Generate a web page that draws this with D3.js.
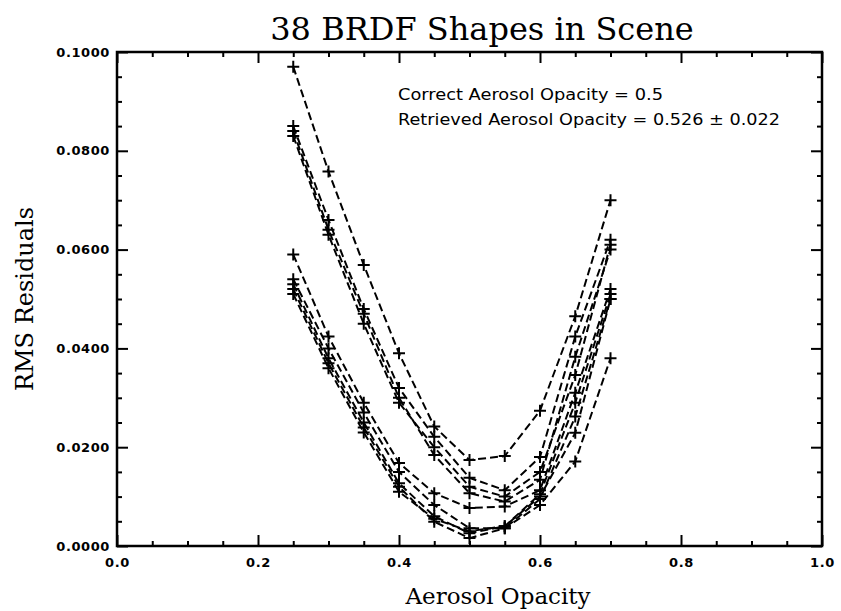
<!DOCTYPE html>
<html>
<head>
<meta charset="utf-8">
<script src="https://cdn.jsdelivr.net/npm/d3@7"></script>
<style>
  html, body { margin: 0; padding: 0; background: #fff; }
  svg { display: block; }
</style>
</head>
<body>
<svg id="chart" width="841" height="611"></svg>
<script>
// Aerosol opacities at which each BRDF fit was evaluated
const opacities = [0.25, 0.30, 0.35, 0.40, 0.45, 0.50, 0.55, 0.60, 0.65, 0.70];

// RMS residuals of the fit, one array per BRDF shape
const shapeA  = [0.0970, 0.0758, 0.0569, 0.0390, 0.0242, 0.0174, 0.0182, 0.0274, 0.0465, 0.0700];
const shapeB1 = [0.0850, 0.0660, 0.0480, 0.0320, 0.0221, 0.0138, 0.0113, 0.0180, 0.0424, 0.0620];
const shapeB2 = [0.0840, 0.0640, 0.0470, 0.0300, 0.0184, 0.0107, 0.0090, 0.0134, 0.0383, 0.0600];
const shapeB3 = [0.0830, 0.0630, 0.0450, 0.0290, 0.0200, 0.0120, 0.0100, 0.0150, 0.0346, 0.0610];
const shapeD1 = [0.0590, 0.0424, 0.0290, 0.0168, 0.0107, 0.0077, 0.0080, 0.0113, 0.0310, 0.0520];
const shapeD2 = [0.0540, 0.0400, 0.0270, 0.0150, 0.0083, 0.0036, 0.0036, 0.0095, 0.0262, 0.0500];
const shapeD3 = [0.0530, 0.0380, 0.0250, 0.0127, 0.0060, 0.0026, 0.0040, 0.0105, 0.0290, 0.0510];
const shapeD4 = [0.0520, 0.0370, 0.0240, 0.0120, 0.0049, 0.0016, 0.0036, 0.0083, 0.0171, 0.0380];
const shapeD5 = [0.0510, 0.0360, 0.0230, 0.0110, 0.0055, 0.0030, 0.0040, 0.0100, 0.0229, 0.0500];
const shapes = [shapeA, shapeB1, shapeB2, shapeB3, shapeD1, shapeD2, shapeD3, shapeD4, shapeD5];

// Axis ticks
const xMajorTicks = [0.0, 0.2, 0.4, 0.6, 0.8, 1.0];
const xMinorTicks = [0.05, 0.10, 0.15, 0.25, 0.30, 0.35, 0.45, 0.50, 0.55, 0.65, 0.70, 0.75, 0.85, 0.90, 0.95];
const yMajorTicks = [0.00, 0.02, 0.04, 0.06, 0.08, 0.10];
const yMinorTicks = [0.005, 0.010, 0.015, 0.025, 0.030, 0.035, 0.045, 0.050, 0.055, 0.065, 0.070, 0.075, 0.085, 0.090, 0.095];

// Text
const chartTitle = "38 BRDF Shapes in Scene";
const xTitle = "Aerosol Opacity";
const yTitle = "RMS Residuals";
const noteLines = ["Correct Aerosol Opacity = 0.5", "Retrieved Aerosol Opacity = 0.526 \u00b1 0.022"];

const svg = d3.select("#chart");
const plotLeft = 117, plotRight = 822, plotTop = 52, plotBottom = 546;

const x = d3.scaleLinear().domain([0, 1]).range([plotLeft, plotRight]);
const y = d3.scaleLinear().domain([0, 0.1]).range([plotBottom, plotTop]);

const ink = "#000";
const tickFont = "'DejaVu Sans', sans-serif";
const serif = "'DejaVu Serif', serif";

function styleAxis(g, labels) {
  g.select(".domain").remove();
  g.selectAll(".tick line").attr("stroke", ink).attr("stroke-width", 2);
  g.selectAll(".tick text")
    .attr("fill", ink)
    .style("font-family", tickFont)
    .style("font-size", "13px")
    .style("font-weight", "bold")
    .style("letter-spacing", "0.6px");
  if (!labels) g.selectAll(".tick text").remove();
}

// Bottom axis with labels; ticks point into the plot
svg.append("g").attr("transform", `translate(0,${plotBottom})`)
  .call(d3.axisBottom(x).tickValues(xMajorTicks).tickSize(-11).tickPadding(12).tickFormat(d3.format(".1f")))
  .call(g => styleAxis(g, true));
svg.append("g").attr("transform", `translate(0,${plotBottom})`)
  .call(d3.axisBottom(x).tickValues(xMinorTicks).tickSize(-5).tickFormat(""))
  .call(g => styleAxis(g, false));
// Top axis
svg.append("g").attr("transform", `translate(0,${plotTop})`)
  .call(d3.axisTop(x).tickValues(xMajorTicks).tickSize(-11).tickFormat(""))
  .call(g => styleAxis(g, false));
svg.append("g").attr("transform", `translate(0,${plotTop})`)
  .call(d3.axisTop(x).tickValues(xMinorTicks).tickSize(-5).tickFormat(""))
  .call(g => styleAxis(g, false));
// Left axis with labels
svg.append("g").attr("transform", `translate(${plotLeft},0)`)
  .call(d3.axisLeft(y).tickValues(yMajorTicks).tickSize(-11).tickPadding(7).tickFormat(d3.format(".4f")))
  .call(g => styleAxis(g, true));
svg.append("g").attr("transform", `translate(${plotLeft},0)`)
  .call(d3.axisLeft(y).tickValues(yMinorTicks).tickSize(-5).tickFormat(""))
  .call(g => styleAxis(g, false));
// Right axis
svg.append("g").attr("transform", `translate(${plotRight},0)`)
  .call(d3.axisRight(y).tickValues(yMajorTicks).tickSize(-11).tickFormat(""))
  .call(g => styleAxis(g, false));
svg.append("g").attr("transform", `translate(${plotRight},0)`)
  .call(d3.axisRight(y).tickValues(yMinorTicks).tickSize(-5).tickFormat(""))
  .call(g => styleAxis(g, false));

// Plot frame
svg.append("rect")
  .attr("x", plotLeft).attr("y", plotTop)
  .attr("width", plotRight - plotLeft).attr("height", plotBottom - plotTop)
  .attr("fill", "none").attr("stroke", ink).attr("stroke-width", 2.5);

// Residual curves: dashed lines with plus markers
const line = d3.line()
  .x((d, i) => x(opacities[i]))
  .y(d => y(d));

const curves = svg.append("g");
curves.selectAll("path.curve")
  .data(shapes)
  .join("path")
  .attr("class", "curve")
  .attr("d", line)
  .attr("fill", "none")
  .attr("stroke", ink)
  .attr("stroke-width", 2)
  .attr("stroke-dasharray", "8,4");

const marks = shapes.flatMap(s => s.map((v, i) => ({ xv: opacities[i], yv: v })));
curves.selectAll("path.mark")
  .data(marks)
  .join("path")
  .attr("class", "mark")
  .attr("transform", d => `translate(${x(d.xv)},${y(d.yv)})`)
  .attr("d", "M-6,0H6M0,-6V6")
  .attr("stroke", ink)
  .attr("stroke-width", 2);

// Title and axis titles
svg.append("text")
  .attr("x", 482).attr("y", 40)
  .attr("text-anchor", "middle")
  .style("font-family", serif).style("font-size", "32px")
  .attr("fill", ink)
  .text(chartTitle);

svg.append("text")
  .attr("x", 498).attr("y", 604)
  .attr("text-anchor", "middle")
  .style("font-family", serif).style("font-size", "23px")
  .attr("fill", ink)
  .text(xTitle);

svg.append("text")
  .attr("transform", `translate(33,${(plotTop + plotBottom) / 2}) rotate(-90)`)
  .attr("text-anchor", "middle")
  .style("font-family", serif).style("font-size", "24px")
  .attr("fill", ink)
  .text(yTitle);

// Retrieval note in the upper right
const noteWidths = [265, 382];
svg.selectAll("text.note")
  .data(noteLines)
  .join("text")
  .attr("class", "note")
  .attr("x", 398)
  .attr("y", (d, i) => 100 + i * 25)
  .attr("textLength", (d, i) => noteWidths[i])
  .attr("lengthAdjust", "spacingAndGlyphs")
  .style("font-family", tickFont).style("font-size", "15px")
  .attr("fill", ink)
  .text(d => d);
</script>
</body>
</html>
